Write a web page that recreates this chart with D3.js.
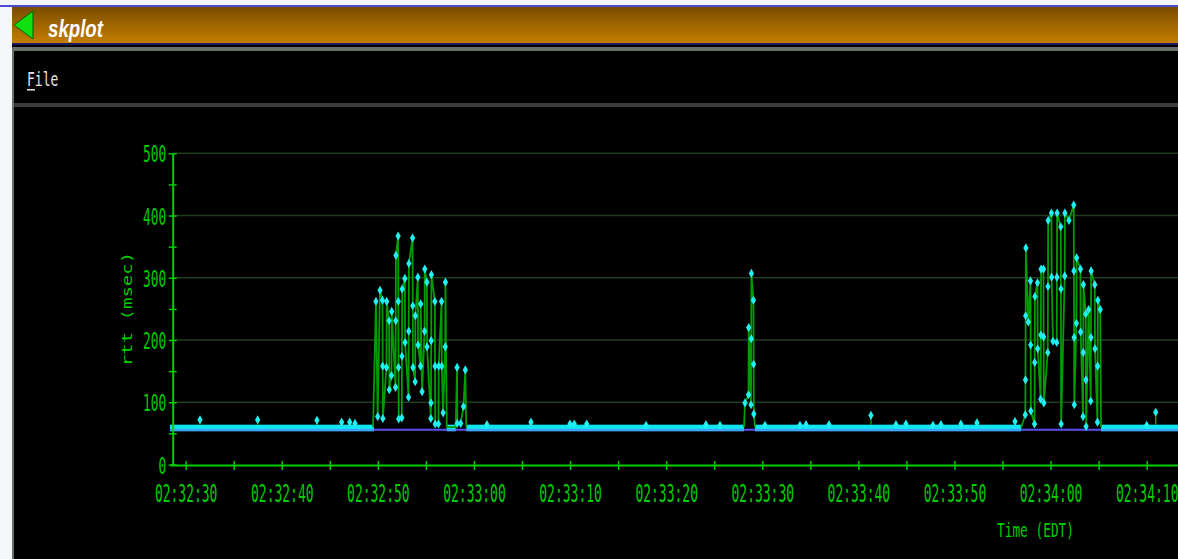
<!DOCTYPE html>
<meta charset="utf-8">
<head>
  <title>skplot</title>
</head>
<style>
body { margin: 0; background: #fff; overflow: hidden; }
.mono { font-family: "DejaVu Sans Mono", monospace; }
</style>
<body>
<script src="https://d3js.org/d3.v7.min.js"></script>
<script>

// zeit in sekunden nach 02:32:00
var xTickSecs = [30, 40, 50, 60, 70, 80, 90, 100, 110, 120, 130];
var xTickLabels = ["02:32:30", "02:32:40", "02:32:50", "02:33:00", "02:33:10", "02:33:20",
                   "02:33:30", "02:33:40", "02:33:50", "02:34:00", "02:34:10"];
var xMinorSecs = [30, 35, 40, 45, 50, 55, 60, 65, 70, 75, 80, 85, 90, 95, 100, 105, 110, 115, 120, 125, 130];
var yTicks = [0, 100, 200, 300, 400, 500];
var yMinor = [0, 50, 100, 150, 200, 250, 300, 350, 400, 450, 500];

// ruhige phasen, rtt liegt dicht um 60 ms
var baseRuns = [[28.37, 49.6], [57.17, 58.1], [59.2, 88.1], [89.24, 116.95], [125.25, 133.26]];
var baseBand = [56.5, 64];
var minRtt = 56;

// einzelne kleine ausreisser
var blips = [[31.49, 72], [37.49, 72], [43.66, 71], [46.23, 68], [47.07, 68], [47.62, 66],
             [61.35, 64], [65.93, 68], [69.99, 65], [70.44, 65], [71.73, 65], [77.9, 63],
             [84.14, 64], [85.6, 63], [90.28, 63], [93.92, 63], [94.55, 64], [96.94, 64],
             [101.31, 79], [103.91, 64], [104.95, 65], [107.76, 63], [108.59, 64],
             [110.67, 65], [112.34, 67], [116.3, 69], [130.0, 63], [130.94, 84]];

var burst1 = [[49.5, 60], [49.8, 262], [49.98, 77], [50.22, 280], [50.48, 264], [50.5, 158], [50.52, 74],
  [50.9, 156], [50.92, 262], [51.17, 231], [51.19, 120], [51.42, 143], [51.44, 246],
  [51.84, 124], [51.86, 231], [51.88, 336], [52.11, 367], [52.13, 262], [52.15, 156], [52.17, 73],
  [52.49, 75], [52.51, 174], [52.53, 282], [52.81, 299], [52.83, 196], [53.19, 108], [53.21, 214],
  [53.23, 323], [53.61, 364], [53.63, 255], [53.65, 156], [53.88, 133], [53.9, 239], [54.16, 301],
  [54.18, 192], [54.44, 158], [54.46, 258], [54.6, 117], [54.86, 214], [54.88, 314], [55.1, 293],
  [55.12, 189], [55.51, 74], [55.53, 99], [55.55, 199], [55.57, 305], [55.93, 262], [55.95, 158],
  [55.97, 65], [56.31, 65], [56.33, 158], [56.63, 262], [56.65, 158], [56.79, 83], [57.01, 189],
  [57.03, 293], [57.17, 60], [58.1, 60], [58.24, 156], [58.26, 66], [58.62, 66], [58.91, 93],
  [59.1, 152], [59.2, 60]];

var burst2 = [[88.1, 60], [88.2, 99], [88.57, 112], [88.59, 220], [88.83, 96], [88.85, 202],
  [88.87, 307], [89.08, 264], [89.1, 161], [89.12, 81], [89.24, 60]];

var burst3 = [[116.95, 60], [117.37, 80], [117.39, 136], [117.41, 239], [117.43, 348], [117.68, 229],
  [117.91, 295], [117.93, 192], [117.95, 86], [118.33, 65], [118.35, 164], [118.37, 270],
  [118.64, 292], [118.66, 186], [118.97, 105], [118.99, 208], [119.01, 314], [119.26, 314],
  [119.28, 205], [119.3, 99], [119.71, 180], [119.73, 286], [119.75, 392], [120.09, 404],
  [120.11, 301], [120.25, 198], [120.64, 196], [120.66, 301], [120.68, 404], [121.06, 382],
  [121.08, 282], [121.1, 65], [121.47, 303], [121.49, 404], [121.91, 392], [122.41, 417],
  [122.43, 311], [122.45, 204], [122.47, 96], [122.69, 227], [122.71, 332], [123.11, 314],
  [123.13, 213], [123.38, 77], [123.4, 180], [123.42, 289], [123.66, 242], [123.68, 136],
  [123.7, 61], [123.96, 249], [124.18, 102], [124.2, 204], [124.22, 311], [124.6, 289],
  [124.62, 186], [124.88, 68], [124.9, 158], [124.92, 264], [125.17, 249], [125.25, 60]];

var width = 1178, height = 559;
var svg = d3.select("body").append("svg")
    .attr("width", width)
    .attr("height", height);

// fensterrahmen
var defs = svg.append("defs");
var grad = defs.append("linearGradient").attr("id", "titel")
    .attr("x1", 0).attr("y1", 0).attr("x2", 0).attr("y2", 1);
grad.append("stop").attr("offset", "0%").attr("stop-color", "#7a4c00");
grad.append("stop").attr("offset", "100%").attr("stop-color", "#c47e00");

svg.append("rect").attr("width", width).attr("height", height).attr("fill", "#f4f6f8");
svg.append("rect").attr("x", 0).attr("y", 5).attr("width", width).attr("height", 2).attr("fill", "#4c4cd0");
svg.append("rect").attr("x", 12).attr("y", 7).attr("width", width - 12).attr("height", 36).attr("fill", "url(#titel)");
svg.append("rect").attr("x", 12).attr("y", 43).attr("width", width - 12).attr("height", 2).attr("fill", "#1c1c5c");
svg.append("rect").attr("x", 12).attr("y", 45).attr("width", width - 12).attr("height", height - 45).attr("fill", "#000");
svg.append("rect").attr("x", 12).attr("y", 47).attr("width", width - 12).attr("height", 4).attr("fill", "#687068");
svg.append("rect").attr("x", 12).attr("y", 103).attr("width", width - 12).attr("height", 4).attr("fill", "#3c3c3c");
svg.append("rect").attr("x", 12).attr("y", 47).attr("width", 2).attr("height", height - 47).attr("fill", "#687068");

svg.append("path").attr("d", "M14,25L33,11L33,39Z")
    .attr("fill", "#10e010").attr("stroke", "#006000").attr("stroke-width", 1);
svg.append("text").attr("x", 48).attr("y", 37)
    .attr("textLength", 55).attr("lengthAdjust", "spacingAndGlyphs")
    .style("font-family", "'Liberation Sans', sans-serif").style("font-style", "italic")
    .style("font-weight", "bold").style("font-size", "23px").attr("fill", "#fff")
    .text("skplot");

svg.append("text").attr("class", "mono")
    .attr("transform", "translate(27,86) scale(1,1.45)")
    .style("font-size", "13px").attr("fill", "#e4e4e4").text("File");
svg.append("rect").attr("x", 27).attr("y", 89).attr("width", 8).attr("height", 1.5).attr("fill", "#e4e4e4");

// skalen
var x = d3.scaleLinear().domain([28.37, 133.26]).range([170, 1178]);
var y = d3.scaleLinear().domain([0, 500]).range([464.5, 153.3]);

var g = svg.append("g");

// gitterlinien
g.selectAll(".grid")
    .data(yTicks.filter(function(d) { return d > 0; }))
  .enter().append("line")
    .attr("x1", 173).attr("x2", width)
    .attr("y1", function(d) { return y(d); })
    .attr("y2", function(d) { return y(d); })
    .attr("stroke", "#1e3e1e").attr("stroke-width", 1.5);

// min-rtt linie
g.append("line")
    .attr("x1", x(28.37)).attr("x2", x(133.26))
    .attr("y1", y(minRtt)).attr("y2", y(minRtt))
    .attr("stroke", "#5a50f0").attr("stroke-width", 2);

// dichtes band der normalen messwerte
g.selectAll(".band")
    .data(baseRuns)
  .enter().append("rect")
    .attr("x", function(d) { return x(d[0]); })
    .attr("width", function(d) { return x(d[1]) - x(d[0]); })
    .attr("y", y(baseBand[1]))
    .attr("height", y(baseBand[0]) - y(baseBand[1]))
    .attr("fill", "#10e4f0");
g.selectAll(".bandlow")
    .data(baseRuns)
  .enter().append("rect")
    .attr("x", function(d) { return x(d[0]); })
    .attr("width", function(d) { return x(d[1]) - x(d[0]); })
    .attr("y", y(baseBand[0]))
    .attr("height", 2)
    .attr("fill", "#40a8ff");

var line = d3.line()
    .x(function(d) { return x(d[0]); })
    .y(function(d) { return y(d[1]); });

g.selectAll(".burst")
    .data([burst1, burst2, burst3])
  .enter().append("path")
    .attr("d", line)
    .attr("fill", "none")
    .attr("stroke", "#009c00")
    .attr("stroke-width", 1.8);

// kleine stiele der ausreisser
g.selectAll(".stem")
    .data(blips)
  .enter().append("line")
    .attr("x1", function(d) { return x(d[0]); })
    .attr("x2", function(d) { return x(d[0]); })
    .attr("y1", function(d) { return y(d[1]); })
    .attr("y2", y(baseBand[1]))
    .attr("stroke", "#009c00").attr("stroke-width", 1.5);

// markierungen
var marker = d3.symbol().type(d3.symbolDiamond).size(24);
var allPts = blips.concat(burst1, burst2, burst3).filter(function(d) { return d[1] > 60; });
g.selectAll(".pt")
    .data(allPts)
  .enter().append("path")
    .attr("d", marker)
    .attr("transform", function(d) { return "translate(" + x(d[0]) + "," + y(d[1]) + ")"; })
    .attr("fill", "#20f0f0");

// achsen
var green = "#00cc00";
var xAxis = d3.axisBottom(x)
    .tickValues(xMinorSecs)
    .tickSize(0)
    .tickSizeOuter(0)
    .tickFormat(function(d) {
      var i = xTickSecs.indexOf(d);
      return i < 0 ? "" : xTickLabels[i];
    });
var gx = svg.append("g").attr("transform", "translate(0,465)").call(xAxis);
gx.select(".domain").attr("stroke", green).attr("stroke-width", 2);
gx.selectAll(".tick line").attr("y1", -4).attr("y2", 5).attr("stroke", green).attr("stroke-width", 1.5);
gx.selectAll(".tick text")
    .attr("class", "mono")
    .attr("y", null).attr("dy", null)
    .attr("transform", "translate(0,37) scale(1,1.9)")
    .style("font-size", "13px")
    .attr("fill", green)
    .each(function(d) {
      if (xTickSecs.indexOf(d) < 0) d3.select(this).remove();
    });

var yAxis = d3.axisLeft(y)
    .tickValues(yMinor)
    .tickSize(0)
    .tickSizeOuter(0)
    .tickFormat(function(d) { return yTicks.indexOf(d) < 0 ? "" : String(d); });
var gy = svg.append("g").attr("transform", "translate(172.7,0)").call(yAxis);
gy.select(".domain").attr("stroke", green).attr("stroke-width", 2);
gy.selectAll(".tick line").attr("x1", -4).attr("x2", 4).attr("stroke", green).attr("stroke-width", 1.5);
gy.selectAll(".tick text")
    .attr("class", "mono")
    .attr("x", null).attr("dy", null)
    .attr("transform", "translate(-6.5,8.5) scale(1,1.85)")
    .style("font-size", "12.8px")
    .attr("fill", green)
    .each(function(d) {
      if (yTicks.indexOf(d) < 0) d3.select(this).remove();
    });

svg.append("text").attr("class", "mono")
    .attr("transform", "translate(132,309) rotate(-90) scale(1,0.75)")
    .attr("text-anchor", "middle")
    .style("font-size", "19px").attr("fill", green)
    .text("rtt (msec)");

svg.append("text").attr("class", "mono")
    .attr("transform", "translate(997,537) scale(1,1.5)")
    .style("font-size", "12.8px").attr("fill", green)
    .text("Time (EDT)");

</script>
</body>
